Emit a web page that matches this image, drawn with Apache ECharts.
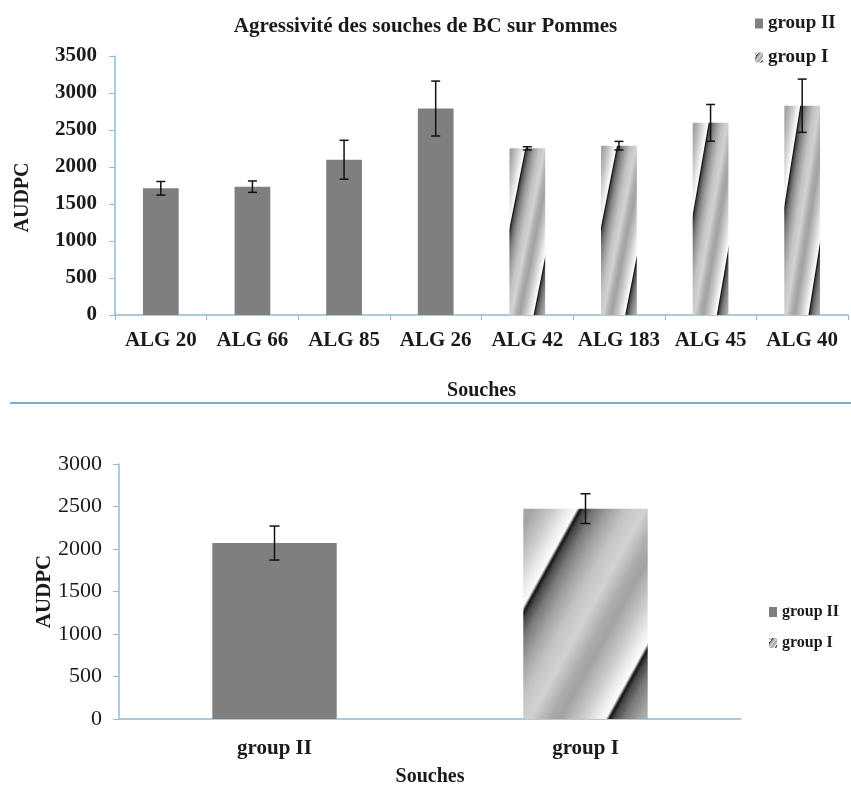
<!DOCTYPE html>
<html>
<head>
<meta charset="utf-8">
<script src="https://cdn.jsdelivr.net/npm/echarts@6/dist/echarts.min.js"></script>
<style>html,body{margin:0;padding:0;background:#fff}#c{width:851px;height:788px}</style>
</head>
<body>
<div id="c"></div>
<script>
// ---------- data ----------
const categories = ['ALG 20','ALG 66','ALG 85','ALG 26','ALG 42','ALG 183','ALG 45','ALG 40'];
const groupIIValues = [1712, 1734, 2098, 2790, null, null, null, null];
const groupIValues  = [null, null, null, null, 2252, 2288, 2597, 2828];
const strainErrors  = [92, 77, 263, 371, 22, 58, 248, 360];
const groupCategories = ['group II', 'group I'];
const groupMeans  = [2070, 2475];
const groupErrors = [200, 175];
const topYMax = 3500, bottomYMax = 3000, yStep = 500;
const seriesNames = ['group II', 'group I'];
const titleText = 'Agressivité des souches de BC sur Pommes';

// ---------- style ----------
const FONT = 'Liberation Serif';
const TXT = '#1a1a1a';
const AXIS = '#8dbcd8';
const GREY = '#7f7f7f';
const STRIPE = {k: 0.93, s1: 0.46, period: 1.16};
const profile = [[0,20],[0.03,70],[0.1,120],[0.2,160],[0.32,195],[0.45,210],[0.58,172],[0.66,162],[0.8,200],[0.92,238],[0.975,252],[1,20]];

function grayAt(ph) {
  ph = ((ph % 1) + 1) % 1;
  for (let i = 1; i < profile.length; i++) {
    if (ph <= profile[i][0]) {
      const a = profile[i-1], b = profile[i];
      const f = (ph - a[0]) / (b[0] - a[0]);
      return Math.round(a[1] + f * (b[1] - a[1]));
    }
  }
  return profile[profile.length-1][1];
}
function g2c(g) { return 'rgb(' + g + ',' + g + ',' + g + ')'; }
function hatch(w, h) {
  const a = 1, b = STRIPE.k, smax = a + b;
  const gx = a / w, gy = b / h, gg = gx*gx + gy*gy, lam = smax / gg;
  const fx = lam * gx / w, fy = lam * gy / h;
  const stops = [];
  for (let k = -4; k <= 4; k++) {
    profile.forEach(function (p) {
      const t = (STRIPE.s1 + (k + p[0]) * STRIPE.period) / smax;
      if (t > 0 && t < 1) stops.push({offset: t, color: g2c(p[1])});
    });
  }
  stops.push({offset: 0, color: g2c(grayAt((0 - STRIPE.s1) / STRIPE.period))});
  stops.push({offset: 1, color: g2c(grayAt((smax - STRIPE.s1) / STRIPE.period))});
  stops.sort(function (p, q) { return p.offset - q.offset; });
  return {type: 'linear', x: 0, y: 0, x2: fx, y2: fy, colorStops: stops, global: false};
}

function errData(means, errs) {
  return means.map(function (m, i) { return [i, m - errs[i], m + errs[i]]; });
}
function errRender(cap) {
  return function (params, api) {
    const x = api.value(0);
    const lo = api.coord([x, api.value(1)]);
    const hi = api.coord([x, api.value(2)]);
    const st = {stroke: '#111', lineWidth: 1.5};
    return {type: 'group', children: [
      {type: 'line', shape: {x1: lo[0], y1: lo[1], x2: hi[0], y2: hi[1]}, style: st},
      {type: 'line', shape: {x1: hi[0]-cap, y1: hi[1], x2: hi[0]+cap, y2: hi[1]}, style: st},
      {type: 'line', shape: {x1: lo[0]-cap, y1: lo[1], x2: lo[0]+cap, y2: lo[1]}, style: st}
    ]};
  };
}
const topMeans = categories.map(function (c, i) { return groupIIValues[i] != null ? groupIIValues[i] : groupIValues[i]; });
const plainNum = function (v) { return String(v); };

const chart = echarts.init(document.getElementById('c'), null, {renderer: 'canvas'});
const legendData = [{name: seriesNames[0], itemStyle: {color: GREY}}, {name: seriesNames[1], itemStyle: {color: hatch(8, 10)}}];

const option = {
  animation: false,
  title: {text: titleText, left: 'center', top: 16, padding: 0,
    textStyle: {fontFamily: FONT, fontWeight: 'bold', fontSize: 21, color: TXT}},
  legend: [
    {orient: 'vertical', left: 755, top: 14, padding: 0, itemWidth: 8, itemHeight: 10, itemGap: 15,
     icon: 'rect', data: legendData, selectedMode: false,
     textStyle: {fontFamily: FONT, fontWeight: 'bold', fontSize: 19, color: TXT}},
    {orient: 'vertical', left: 769, top: 604, padding: 0, itemWidth: 8, itemHeight: 10, itemGap: 15,
     icon: 'rect', data: legendData, selectedMode: false,
     textStyle: {fontFamily: FONT, fontWeight: 'bold', fontSize: 16, color: TXT}}
  ],
  graphic: [{type: 'line', shape: {x1: 10, y1: 403, x2: 851, y2: 403}, style: {stroke: '#7aaed2', lineWidth: 2}}],
  grid: [
    {left: 115, right: 3, top: 56, bottom: 473},
    {left: 119, right: 110, top: 464, bottom: 69}
  ],
  xAxis: [
    {type: 'category', gridIndex: 0, data: categories,
     name: 'Souches', nameLocation: 'middle', nameGap: 66,
     nameTextStyle: {fontFamily: FONT, fontWeight: 'bold', fontSize: 20, color: TXT},
     axisLine: {lineStyle: {color: AXIS, width: 1.5}},
     axisTick: {show: true, length: 5, lineStyle: {color: AXIS}},
     axisLabel: {fontFamily: FONT, fontWeight: 'bold', fontSize: 21, color: TXT, margin: 15, interval: 0}},
    {type: 'category', gridIndex: 1, data: groupCategories,
     name: 'Souches', nameLocation: 'middle', nameGap: 48,
     nameTextStyle: {fontFamily: FONT, fontWeight: 'bold', fontSize: 20, color: TXT},
     axisLine: {lineStyle: {color: AXIS, width: 1.5}},
     axisTick: {show: false},
     axisLabel: {fontFamily: FONT, fontWeight: 'bold', fontSize: 21, color: TXT, margin: 19}}
  ],
  yAxis: [
    {type: 'value', gridIndex: 0, min: 0, max: topYMax, interval: yStep,
     name: 'AUDPC', nameLocation: 'middle', nameGap: 82, nameRotate: 90, nameMoveOverlap: false,
     nameTextStyle: {fontFamily: FONT, fontWeight: 'bold', fontSize: 20, color: TXT, padding: [0, 24, 0, 0]},
     axisLine: {show: true, lineStyle: {color: AXIS, width: 1.5}},
     axisTick: {show: true, length: 6, lineStyle: {color: AXIS}},
     splitLine: {show: false},
     axisLabel: {fontFamily: FONT, fontWeight: 'bold', fontSize: 21, color: TXT, margin: 18, formatter: plainNum}},
    {type: 'value', gridIndex: 1, min: 0, max: bottomYMax, interval: yStep,
     name: 'AUDPC', nameLocation: 'middle', nameGap: 64, nameRotate: 90, nameMoveOverlap: false,
     nameTextStyle: {fontFamily: FONT, fontWeight: 'bold', fontSize: 21, color: TXT},
     axisLine: {show: true, lineStyle: {color: AXIS, width: 1.5}},
     axisTick: {show: true, length: 6, lineStyle: {color: AXIS}},
     splitLine: {show: false},
     axisLabel: {fontFamily: FONT, fontSize: 22, color: TXT, margin: 17, formatter: plainNum}}
  ],
  series: [
    {id: 'g2top', name: seriesNames[0], type: 'bar', xAxisIndex: 0, yAxisIndex: 0, stack: 'top', barWidth: '39%',
     itemStyle: {color: GREY}, data: groupIIValues.map(function (v) { return v == null ? '-' : v; })},
    {id: 'g1top', name: seriesNames[1], type: 'bar', xAxisIndex: 0, yAxisIndex: 0, stack: 'top', barWidth: '39%',
     itemStyle: {color: hatch(8, 10)}, data: groupIValues.map(function (v) { return v == null ? '-' : v; })},
    {id: 'g2bot', name: seriesNames[0], type: 'bar', xAxisIndex: 1, yAxisIndex: 1, stack: 'bot', barWidth: '40%',
     itemStyle: {color: GREY}, data: [groupMeans[0], '-']},
    {id: 'g1bot', name: seriesNames[1], type: 'bar', xAxisIndex: 1, yAxisIndex: 1, stack: 'bot', barWidth: '40%',
     itemStyle: {color: hatch(8, 10)}, data: ['-', groupMeans[1]]},
    {id: 'errTop', type: 'custom', xAxisIndex: 0, yAxisIndex: 0, z: 10, renderItem: errRender(4.5),
     data: errData(topMeans, strainErrors)},
    {id: 'errBot', type: 'custom', xAxisIndex: 1, yAxisIndex: 1, z: 10, renderItem: errRender(5),
     data: errData(groupMeans, groupErrors)}
  ]
};
chart.setOption(option);

// second pass: per-bar gradient fitted to each bar's box
function barBox(seriesIndex, i) {
  const d = chart.getModel().getSeriesByIndex(seriesIndex).getData();
  const l = d.getItemLayout(i);
  return {w: Math.abs(l.width), h: Math.abs(l.height)};
}
const topData = groupIValues.map(function (v, i) {
  if (v == null) return '-';
  const b = barBox(1, i);
  return {value: v, itemStyle: {color: hatch(b.w, b.h)}};
});
const bb = barBox(3, 1);
chart.setOption({series: [
  {id: 'g1top', data: topData},
  {id: 'g1bot', data: ['-', {value: groupMeans[1], itemStyle: {color: hatch(bb.w, bb.h)}}]}
]});
</script>
</body>
</html>
